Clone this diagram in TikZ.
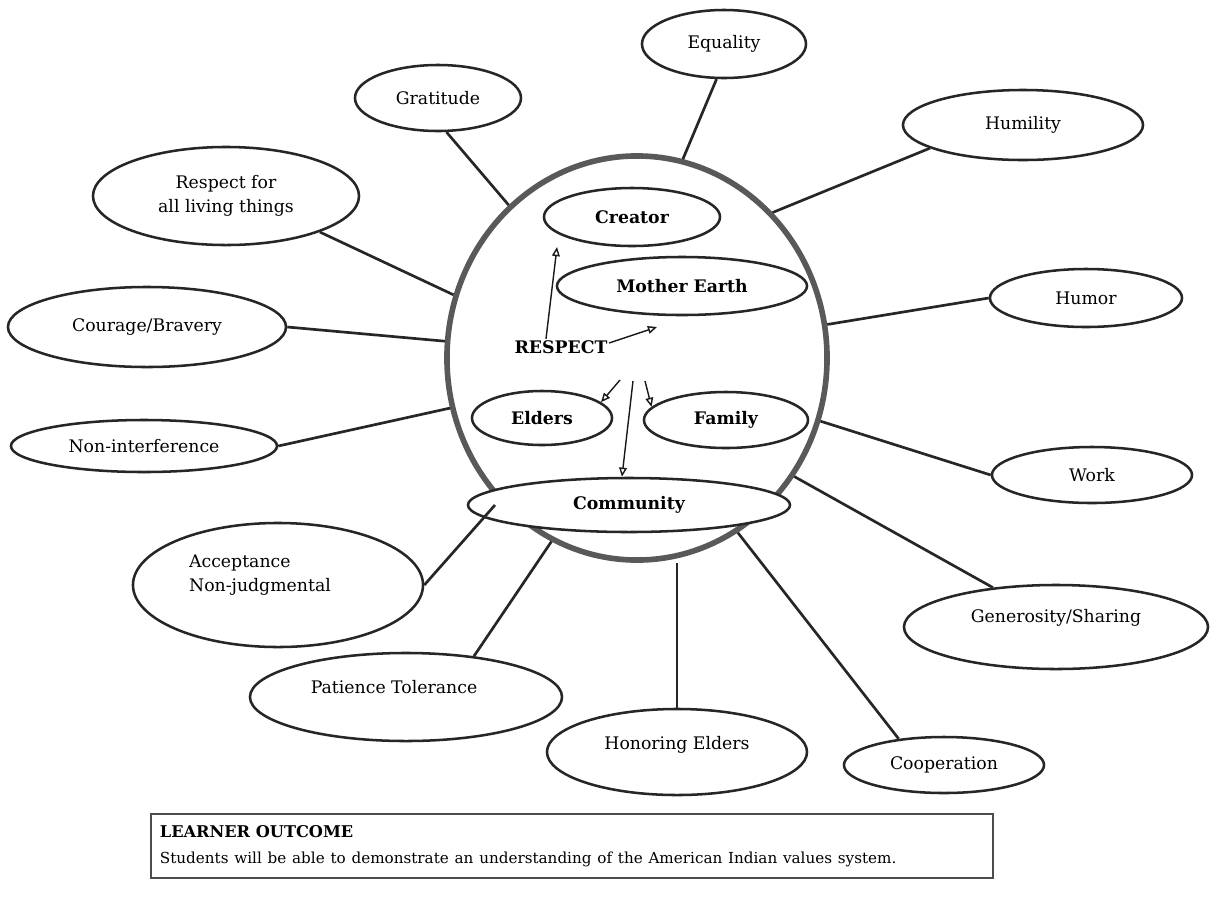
\documentclass[tikz,border=0pt]{standalone}
\usepackage{fontspec}
\setmainfont{DejaVu Serif}
\usetikzlibrary{arrows.meta,shapes.geometric}

\begin{document}
\begin{tikzpicture}[
  x=0.025cm, y=-0.025cm,
  font=\fontsize{12.3}{17.5}\selectfont, >={Triangle[open,length=6.5pt,width=5.5pt]},
  val/.style 2 args={ellipse, draw=black!85, line width=1.8pt, inner sep=0pt, minimum width=#1, minimum height=#2, align=center},
  core/.style 2 args={val={#1}{#2}, fill=white, font=\fontsize{12.3}{15}\selectfont\bfseries},
  spoke/.style={draw=black!85, line width=1.9pt},
  arr/.style={->, draw=black!90, line width=1pt},
  lbl/.style={align=left}]

\path[use as bounding box, fill=white] (0,0) rectangle (1218,897);

% the circle of respect
\node[ellipse, draw=black!65, line width=4pt, minimum width=9.5cm, minimum height=10.1cm] (hub) at (637,358) {};
\node[core={4.4cm}{1.45cm}] (creator) at (632,217) {Creator};
\node[core={6.25cm}{1.45cm}] (earth) at (682,286) {Mother Earth};
\node[core={3.5cm}{1.35cm}] (elders) at (542,418) {Elders};
\node[core={4.1cm}{1.4cm}] (family) at (726,420) {Family};
\node[core={8.05cm}{1.35cm}] (community) at (629,505) {Community};
\node[font=\fontsize{12.3}{15}\selectfont\bfseries, inner sep=1pt] (respect) at (561,347) {RESPECT};

% values round the circle
\node[val={4.1cm}{1.7cm}] (equality) at (724,44) {Equality};
\node[val={4.15cm}{1.65cm}] (gratitude) at (438,98) {Gratitude};
\node[val={6.0cm}{1.75cm}] (humility) at (1023,125) {Humility};
\node[val={6.65cm}{2.45cm}] (living) at (226,196) {Respect for\\all living things};
\node[val={4.8cm}{1.45cm}] (humor) at (1086,298) {Humor};
\node[val={6.95cm}{2.0cm}] (courage) at (147,327) {Courage/Bravery};
\node[val={6.65cm}{1.3cm}] (noninter) at (144,446) {Non-interference};
\node[val={5.0cm}{1.4cm}] (work) at (1092,475) {Work};
\node[val={7.25cm}{3.1cm}, label={[lbl, xshift=-0.45cm, yshift=0.25cm]center:Acceptance\\Non-judgmental}] (accept) at (278,585) {};
\node[val={7.6cm}{2.1cm}, label={[yshift=0.225cm]center:Generosity/Sharing}] (generosity) at (1056,627) {};
\node[val={7.8cm}{2.2cm}, label={[xshift=-0.3cm, yshift=0.25cm]center:Patience Tolerance}] (patience) at (406,697) {};
\node[val={6.5cm}{2.15cm}, label={[yshift=0.175cm]center:Honoring Elders}] (honoring) at (677,752) {};
\node[val={5.0cm}{1.4cm}] (coop) at (944,765) {Cooperation};

% spokes
\coordinate (acceptEnd) at (495,505);
\draw[spoke] (equality.258) -- (hub.77);
\draw[spoke] (gratitude.284) -- (hub.130);
\draw[spoke] (humility.194) -- (hub.47);
\draw[spoke] (living.339) -- (hub.161);
\draw[spoke] (humor.west) -- (hub.10);
\draw[spoke] (courage.east) -- (hub.175);
\draw[spoke] (noninter.east) -- (hub.195);
\draw[spoke] (work.west) -- (hub.341);
\draw[spoke] (accept.east) -- (acceptEnd);
\draw[spoke] (generosity.148) -- (hub.323);
\draw[spoke] (patience.31) -- (hub.245);
\draw[spoke] (honoring.north) -- (honoring.north |- hub.south);
\draw[spoke] (coop.150) -- (hub.300);

% arrows out of RESPECT
\coordinate (toCreator) at (557,247);
\coordinate (toEarth) at (657,327);
\coordinate (forkL) at (620,380);
\coordinate (forkM) at (633,381);
\coordinate (forkR) at (645,381);
\draw[arr] ([xshift=-0.375cm]respect.north) -- (toCreator);
\draw[arr] ([yshift=0.1cm]respect.east) -- (toEarth);
\draw[arr] (forkL) -- (elders.15);
\draw[arr] (forkM) -- (community.104);
\draw[arr] (forkR) -- (family.170);

% learner outcome
\node[draw=black!70, line width=1.3pt, anchor=north west, minimum width=21.05cm, minimum height=1.6cm,
  text width=20.6cm, align=left, inner sep=0.2cm] (outcome) at (150,813)
  {{\fontsize{11.5}{13}\selectfont\bfseries LEARNER OUTCOME}\\[1pt]
   {\fontsize{10.8}{13}\selectfont Students will be able to demonstrate an understanding of the American Indian values system.}};
\end{tikzpicture}
\end{document}
